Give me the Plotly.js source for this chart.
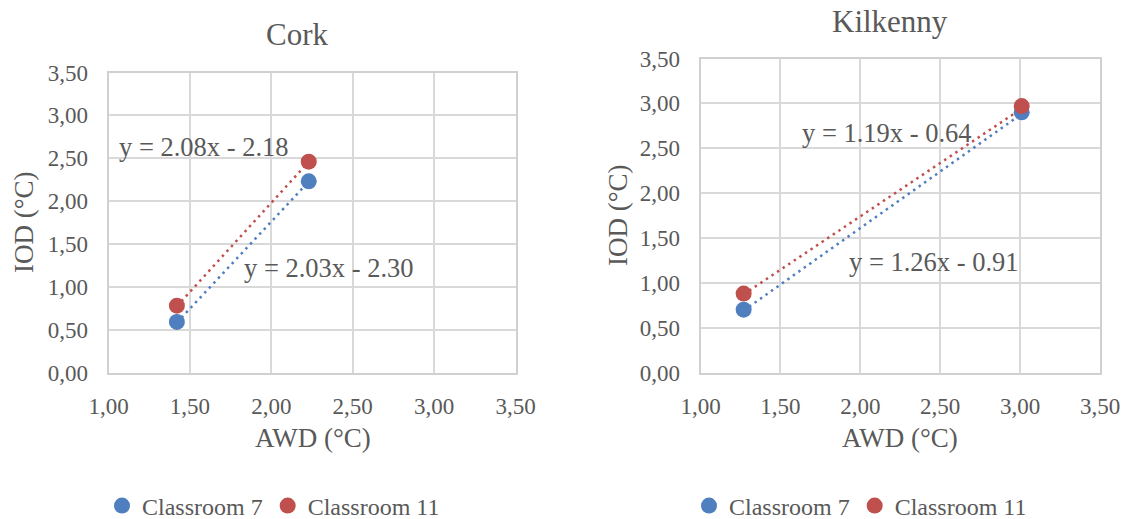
<!DOCTYPE html>
<html>
<head>
<meta charset="utf-8">
<script src="https://cdn.plot.ly/plotly-3.0.1.min.js"></script>
<style>
  html, body { margin: 0; padding: 0; background: #ffffff; }
  #chart { width: 1128px; height: 519px; }
</style>
</head>
<body>
<div id="chart"></div>
<script>
// AWD vs IOD per classroom, two sites
const seriesNames = ['Classroom 7', 'Classroom 11'];

const corkAWD7 = [1.42, 2.23];
const corkIOD7 = [0.59, 2.23];
const corkAWD11 = [1.42, 2.23];
const corkIOD11 = [0.78, 2.46];

const kilkennyAWD7 = [1.27, 3.01];
const kilkennyIOD7 = [0.70, 2.90];
const kilkennyAWD11 = [1.27, 3.01];
const kilkennyIOD11 = [0.88, 2.97];

// linear trendline coefficients [slope, intercept]
const corkFit7 = [2.03, -2.30];
const corkFit11 = [2.08, -2.18];
const kilkennyFit7 = [1.26, -0.91];
const kilkennyFit11 = [1.19, -0.64];

const blue = '#4F7FBF';
const red = '#C0504D';
const textColor = '#595959';
const serif = 'Liberation Serif';

function eqText(fit) {
  const sign = fit[1] < 0 ? ' - ' : ' + ';
  return 'y = ' + fit[0].toFixed(2) + 'x' + sign + Math.abs(fit[1]).toFixed(2);
}

function trend(xs, fit, color, xa, ya) {
  const lo = Math.min(...xs), hi = Math.max(...xs);
  return {
    x: [lo, hi],
    y: [fit[0] * lo + fit[1], fit[0] * hi + fit[1]],
    mode: 'lines', type: 'scatter', xaxis: xa, yaxis: ya,
    line: { color: color, width: 2.5, dash: '2.5px,4.2px' },
    showlegend: false, hoverinfo: 'skip'
  };
}

function pts(xs, ys, name, color, xa, ya, legend) {
  return {
    x: xs, y: ys, name: name, mode: 'markers', type: 'scatter',
    xaxis: xa, yaxis: ya, legend: legend,
    marker: { color: color, size: 16 }
  };
}

const data = [
  trend(corkAWD7, corkFit7, blue, 'x', 'y'),
  trend(corkAWD11, corkFit11, red, 'x', 'y'),
  pts(corkAWD7, corkIOD7, seriesNames[0], blue, 'x', 'y', 'legend'),
  pts(corkAWD11, corkIOD11, seriesNames[1], red, 'x', 'y', 'legend'),
  trend(kilkennyAWD7, kilkennyFit7, blue, 'x2', 'y2'),
  trend(kilkennyAWD11, kilkennyFit11, red, 'x2', 'y2'),
  pts(kilkennyAWD7, kilkennyIOD7, seriesNames[0], blue, 'x2', 'y2', 'legend2'),
  pts(kilkennyAWD11, kilkennyIOD11, seriesNames[1], red, 'x2', 'y2', 'legend2')
];

const W = 1128, H = 519;
const px = v => v / W;
const py = v => 1 - v / H;

function axis(domain, extra) {
  return Object.assign({
    domain: domain,
    range: [0, 3.5],
    dtick: 0.5,
    tick0: 0,
    tickformat: '.2f',
    showgrid: true,
    gridcolor: '#D9D9D9',
    gridwidth: 2,
    zeroline: false,
    showline: true,
    linecolor: '#D0D0D0',
    linewidth: 2,
    mirror: true,
    ticks: '',
    tickfont: { family: serif, size: 23, color: textColor },
    fixedrange: true
  }, extra);
}

const legendFont = { family: serif, size: 24, color: textColor };
const titleFont = { family: serif, size: 31, color: textColor };
const axisTitleFont = { family: serif, size: 27, color: textColor };
const eqFont = { family: serif, size: 26.5, color: textColor };

function note(text, x, y, font, extra) {
  return Object.assign({
    text: text, xref: 'paper', yref: 'paper', x: px(x), y: py(y),
    xanchor: 'center', yanchor: 'middle', showarrow: false, font: font
  }, extra || {});
}

function eqNote(fit, xref, yref, x, y) {
  return {
    text: eqText(fit), xref: xref, yref: yref, x: x, y: y,
    xanchor: 'left', yanchor: 'middle', showarrow: false, font: eqFont
  };
}

const layout = {
  width: W, height: H,
  margin: { l: 0, r: 0, t: 0, b: 0, autoexpand: false },
  paper_bgcolor: '#ffffff',
  plot_bgcolor: '#ffffff',
  separators: ',.',
  font: { family: serif, color: textColor },
  xaxis: axis([px(108.5), px(515.5)], { range: [1, 3.5], anchor: 'y', ticklabelstandoff: 12 }),
  yaxis: axis([py(372.5), py(72.5)], { anchor: 'x', ticklabelstandoff: 14 }),
  xaxis2: axis([px(700.5), px(1100)], { range: [1, 3.5], anchor: 'y2', ticklabelstandoff: 12 }),
  yaxis2: axis([py(372.5), py(58.5)], { anchor: 'x2', ticklabelstandoff: 14 }),
  legend: {
    orientation: 'h', x: px(102), y: py(506), xanchor: 'left', yanchor: 'middle',
    font: legendFont, itemwidth: 30, tracegroupgap: 0, bgcolor: 'rgba(0,0,0,0)'
  },
  legend2: {
    orientation: 'h', x: px(689), y: py(506), xanchor: 'left', yanchor: 'middle',
    font: legendFont, itemwidth: 30, tracegroupgap: 0, bgcolor: 'rgba(0,0,0,0)'
  },
  annotations: [
    note('Cork', 297, 34, titleFont),
    note('Kilkenny', 890, 21, titleFont),
    note('AWD (°C)', 313, 438, axisTitleFont),
    note('AWD (°C)', 900, 438, axisTitleFont),
    note('IOD (°C)', 24, 222, axisTitleFont, { textangle: -90 }),
    note('IOD (°C)', 618, 215, axisTitleFont, { textangle: -90 }),
    eqNote(corkFit11, 'x', 'y', 1.05, 2.63),
    eqNote(corkFit7, 'x', 'y', 1.818, 1.22),
    eqNote(kilkennyFit11, 'x2', 'y2', 1.622, 2.67),
    eqNote(kilkennyFit7, 'x2', 'y2', 1.916, 1.232)
  ]
};

Plotly.newPlot('chart', data, layout, { staticPlot: true, displayModeBar: false });
</script>
</body>
</html>
